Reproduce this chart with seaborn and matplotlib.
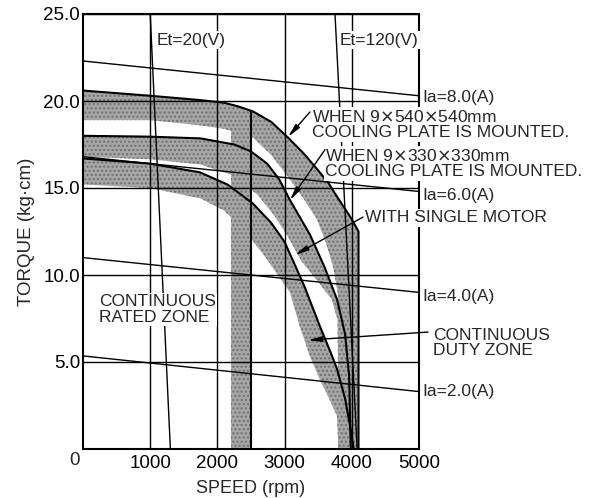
import matplotlib
matplotlib.use("Agg")
import matplotlib.pyplot as plt
import seaborn as sns
import numpy as np
import pandas as pd

# ---------------- data ----------------
x_ticks = [1000, 2000, 3000, 4000, 5000]
y_ticks = [5, 10, 15, 20, 25]
y_tick_labels = ["5.0", "10.0", "15.0", "20.0", "25.0"]

# Torque limit curves (rpm, kg·cm)
c1_rpm = [0, 1000, 1750, 2100, 2300, 2530, 2800, 3050, 3280, 3480, 3650, 3780, 3900, 4000, 4100, 4100]
c1_tq = [20.6, 20.3, 20.05, 19.9, 19.7, 19.4, 18.8, 17.9, 17.0, 16.1, 15.3, 14.5, 13.8, 13.2, 12.5, 0]
b1_rpm = [0, 1000, 1750, 2100, 2530, 2800, 3040, 3280, 3480, 3620, 3720, 3790, 3800]
b1_tq = [18.9, 18.9, 18.6, 18.4, 17.9, 16.9, 15.7, 14.4, 13.2, 11.8, 10.5, 9.0, 0]

c2_rpm = [0, 1000, 1750, 2250, 2500, 2740, 2920, 3080, 3380, 3600, 3780, 3900, 3960, 3985]
c2_tq = [18.0, 17.95, 17.85, 17.5, 17.1, 16.4, 15.5, 14.3, 12.3, 10.4, 8.6, 6.6, 4.2, 0]
b2_rpm = [0, 1000, 1750, 2250, 2600, 2850, 3050, 3250, 3500, 3700, 3790, 3800]
b2_tq = [16.8, 16.65, 16.35, 15.7, 14.6, 13.4, 12.2, 10.8, 9.6, 8.6, 7.4, 0]

c3_rpm = [0, 1000, 1740, 2150, 2530, 2800, 3000, 3150, 3300, 3520, 3680, 3780, 3900, 3970, 4030]
c3_tq = [16.7, 16.4, 15.9, 15.2, 14.1, 13.0, 11.9, 10.6, 9.3, 7.1, 5.6, 4.6, 2.9, 1.4, 0]
b3_rpm = [0, 1000, 1750, 2100, 2400, 2700, 2900, 3080, 3230, 3370, 3500, 3650, 3780, 3800]
b3_tq = [15.2, 15.0, 14.4, 13.7, 12.6, 11.1, 10.0, 9.0, 7.0, 5.4, 4.2, 3.0, 1.9, 0]

# rated zone boundary and shaded strip
rated_rpm = [2500, 2500]
rated_tq = [19.4, 0]
strip_rpm = [2200, 2480]
strip_top = 19.0

# Terminal voltage lines
et_labels = ["Et=20(V)", "Et=120(V)"]
et20_rpm = [1000, 1300]
et120_rpm = [3750, 4080]
et_tq = [25, 0]

# Armature current lines (torque at 0 rpm and at 5000 rpm)
ia_labels = ["Ia=8.0(A)", "Ia=6.0(A)", "Ia=4.0(A)", "Ia=2.0(A)"]
ia_start = [22.3, 16.8, 11.0, 5.35]
ia_end = [20.3, 14.8, 9.0, 3.3]
ia_rpm = [0, 5000]

# ---------------- style ----------------
sns.set_style("white")
plt.rcParams["font.family"] = ["Liberation Sans", "DejaVu Sans"]

fig = plt.figure(figsize=(5.92, 4.98), dpi=100)
ax = fig.add_axes([83 / 592, 49 / 498, 336 / 592, 435 / 498])
ax.set_xlim(0, 5000)
ax.set_ylim(0, 25)

shade = dict(facecolor="#a6a6a6", edgecolor="#707070", hatch="....", linewidth=0, zorder=1)

def band(orpm, otq, irpm, itq):
    xs = list(orpm) + list(irpm)[::-1]
    ys = list(otq) + list(itq)[::-1]
    ax.fill(xs, ys, **shade)

band(c1_rpm, c1_tq, b1_rpm, b1_tq)
band(c2_rpm, c2_tq, b2_rpm, b2_tq)
band(c3_rpm, c3_tq, b3_rpm, b3_tq)
ax.fill([strip_rpm[0], strip_rpm[1], strip_rpm[1], strip_rpm[0]],
        [0, 0, strip_top, strip_top], **shade)

# grid
ax.set_xticks(x_ticks)
ax.set_yticks(y_ticks)
ax.set_yticklabels(y_tick_labels)
ax.grid(True, color="black", linewidth=1.0, zorder=2)
ax.set_axisbelow(False)
for gl in ax.get_xgridlines() + ax.get_ygridlines():
    gl.set_zorder(2)

def line(xs, ys, lw):
    sns.lineplot(x=xs, y=ys, ax=ax, color="black", linewidth=lw, sort=False,
                 estimator=None, zorder=3)

line(c1_rpm, c1_tq, 1.5)
line(c2_rpm, c2_tq, 1.5)
line(c3_rpm, c3_tq, 1.5)
line(rated_rpm, rated_tq, 1.5)
line(et20_rpm, et_tq, 1.0)
line(et120_rpm, et_tq, 1.0)
for s, e in zip(ia_start, ia_end):
    line(ia_rpm, [s, e], 1.0)

for sp in ax.spines.values():
    sp.set_visible(True)
    sp.set_color("black")
    sp.set_linewidth(1.5)
    sp.set_zorder(4)

ax.tick_params(axis="both", length=0, labelsize=13.5, colors="black")
ax.tick_params(axis="x", pad=4)
ax.tick_params(axis="y", pad=2)
ax.set_xlabel("SPEED (rpm)", fontsize=13, labelpad=6)
ax.set_ylabel("TORQUE (kg·cm)", fontsize=13.5, labelpad=6)
ax.annotate("0", xy=(0, 0), xytext=(-8, -11), textcoords="offset pixels",
            ha="center", va="center", fontsize=13.5, annotation_clip=False)

wb = dict(facecolor="white", edgecolor="none", pad=1.0)
tfs = 12.5

def label(x, y, s, **kw):
    ax.text(x, y, s, fontsize=tfs, ha="left", va="center", zorder=6,
            bbox=wb, clip_on=False, linespacing=1.05, **kw)

label(1101, 23.5, et_labels[0])
label(3824, 23.5, et_labels[1])
ia_label_y = [20.2, 14.55, 8.74, 3.28]
for s, y in zip(ia_labels, ia_label_y):
    label(5050, y, s)

label(3408, 18.65, "WHEN 9$\\times$540$\\times$540mm\nCOOLING PLATE IS MOUNTED.")
label(3600, 16.4, "WHEN 9$\\times$330$\\times$330mm\nCOOLING PLATE IS MOUNTED.")
label(4196, 13.28, "WITH SINGLE MOTOR")
label(5208, 6.09, "CONTINUOUS\nDUTY ZONE")
label(238, 8.02, "CONTINUOUS\nRATED ZONE")

arw = dict(arrowstyle="-|>,head_length=0.8,head_width=0.16", color="black",
           lw=1.0, shrinkA=0, shrinkB=0)
for tail, head in [((3378, 19.37), (3050, 17.93)),
                   ((3600, 17.2), (3080, 14.3)),
                   ((4167, 13.33), (3155, 11.15)),
                   ((5134, 6.72), (3348, 6.26))]:
    ax.annotate("", xy=head, xytext=tail, arrowprops=arw, zorder=7,
                annotation_clip=False)

fig.savefig("out.png", dpi=100)
